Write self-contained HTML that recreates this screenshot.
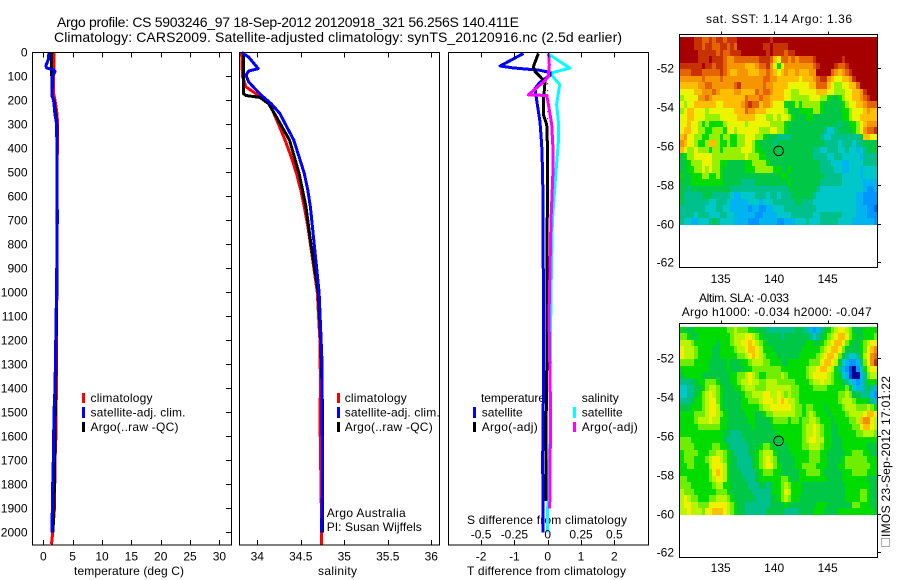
<!DOCTYPE html>
<html>
<head>
<meta charset="utf-8">
<title>Argo profile</title>
<style>
html,body{margin:0;padding:0;background:#fff;}
svg{display:block;}
text{font-family:"Liberation Sans",sans-serif;font-size:12px;fill:#000;}
.t14{font-size:14px;}
</style>
</head>
<body>
<svg id="figure" xmlns="http://www.w3.org/2000/svg" width="900" height="580" viewBox="0 0 900 580">
<rect x="0" y="0" width="900" height="580" fill="#fff"/>
<text class="t14" x="57" y="27" textLength="462" lengthAdjust="spacing">Argo profile: CS 5903246_97 18-Sep-2012 20120918_321 56.256S 140.411E</text>
<text class="t14" x="54" y="42" textLength="568" lengthAdjust="spacing">Climatology: CARS2009. Satellite-adjusted climatology: synTS_20120916.nc (2.5d earlier)</text>

<text x="74" y="575" textLength="110" lengthAdjust="spacing">temperature (deg C)</text>
<text x="318" y="575" textLength="39" lengthAdjust="spacing">salinity</text>
<text x="467" y="575" textLength="159" lengthAdjust="spacing">T difference from climatology</text>
<text x="467" y="524" textLength="160" lengthAdjust="spacing">S difference from climatology</text>

<g>
<rect x="82" y="393" width="3" height="10" fill="#f00"/>
<rect x="82" y="407" width="3" height="11" fill="#00f"/>
<rect x="82" y="422" width="3" height="10" fill="#000"/>
<text x="90.5" y="402" textLength="62" lengthAdjust="spacing">climatology</text>
<text x="90.5" y="416.5" textLength="95" lengthAdjust="spacing">satellite-adj. clim.</text>
<text x="90.5" y="431" textLength="88" lengthAdjust="spacing">Argo(..raw -QC)</text>
</g>
<g>
<rect x="337" y="393" width="3" height="10" fill="#f00"/>
<rect x="337" y="407" width="3" height="11" fill="#00f"/>
<rect x="337" y="422" width="3" height="10" fill="#000"/>
<text x="344.7" y="402" textLength="62" lengthAdjust="spacing">climatology</text>
<text x="344.7" y="416.5" textLength="95" lengthAdjust="spacing">satellite-adj. clim.</text>
<text x="344.7" y="431" textLength="88" lengthAdjust="spacing">Argo(..raw -QC)</text>
</g>
<g>
<text x="326.7" y="517" textLength="79" lengthAdjust="spacing">Argo Australia</text>
<text x="326.7" y="531" textLength="95" lengthAdjust="spacing">PI: Susan Wijffels</text>
</g>
<g>
<text x="481" y="402" textLength="64" lengthAdjust="spacing">temperature</text>
<text x="581.7" y="402" textLength="37" lengthAdjust="spacing">salinity</text>
<rect x="473" y="407" width="3" height="11" fill="#00f"/>
<rect x="473" y="422" width="3" height="10" fill="#000"/>
<rect x="573" y="407" width="3" height="11" fill="#0ff"/>
<rect x="573" y="422" width="3" height="10" fill="#f0f"/>
<text x="481.7" y="416.5" textLength="41" lengthAdjust="spacing">satellite</text>
<text x="481.7" y="431" textLength="56" lengthAdjust="spacing">Argo(-adj)</text>
<text x="581.7" y="416.5" textLength="41" lengthAdjust="spacing">satellite</text>
<text x="581.7" y="431" textLength="56" lengthAdjust="spacing">Argo(-adj)</text>
</g>

<text x="706" y="23" textLength="146" lengthAdjust="spacing">sat. SST: 1.14 Argo: 1.36</text>
<text x="699" y="302" textLength="90" lengthAdjust="spacing">Altim. SLA: -0.033</text>
<text x="681.7" y="316" textLength="190" lengthAdjust="spacing">Argo h1000: -0.034 h2000: -0.047</text>

<rect x="881.5" y="538.5" width="8" height="8" fill="none" stroke="#555" stroke-width="1" stroke-dasharray="1 1"/>
<text transform="translate(890,537) rotate(-90)" x="0" y="0" textLength="161" lengthAdjust="spacing">IMOS 23-Sep-2012 17:01:22</text>
</svg>

<script>
// ---------- profile data ----------
const depthTickValues = [0,100,200,300,400,500,600,700,800,900,1000,1100,1200,1300,1400,1500,1600,1700,1800,1900,2000];
const tempTickValues = [0,5,10,15,20,25,30];
const salTickValues = [34,34.5,35,35.5,36];
const salTickLabels = ['34','34.5','35','35.5','36'];
const diffTickValues = [-2,-1,0,1,2];
const sDiffTickValues = [-0.5,-0.25,0,0.25,0.5];
const sDiffTickLabels = ['-0.5','-0.25','0','0.25','0.5'];
const lonTickValues = [135,140,145];
const latTickValues = [-52,-54,-56,-58,-60,-62];

const climTempDepth = [0,50,100,170,200,250,300,320,500,1000,1500,1510,1600,1700,1900,2000,2050];
const climTemp = [1.82,1.85,1.72,1.75,2.0,2.3,2.45,2.42,2.35,2.3,2.2,2.2,2.15,2.0,1.9,1.6,1.4];
const argoTempDepth = [0,180,200,250,300,600,1000,1300,1500,1700,1850,2000];
const argoTemp = [1.43,1.45,1.8,2.1,2.3,2.35,2.3,2.15,2.05,1.95,1.85,1.65];
const satTempDepth = [0,30,55,65,72,80,100,180,200,260,300,400,500,700,800,1000,1400,1500,1700,1850,2000];
const satTemp = [0.97,0.85,0.46,0.55,1.7,2.0,1.6,1.48,1.75,2.0,2.28,2.3,2.35,2.38,2.33,2.25,2.0,1.82,1.7,1.55,1.5];

const climSalDepth = [0,100,144,179,220,297,366,436,505,574,644,713,783,1000,1200,1400,1500,2000,2050];
const climSal = [33.82,33.83,33.87,34.01,34.15,34.24,34.32,34.39,34.45,34.50,34.54,34.575,34.605,34.69,34.72,34.727,34.72,34.74,34.74];
const argoSalDepth = [0,172,180,188,214,269,366,505,644,783,1000,1200,1500,2000];
const argoSal = [33.84,33.84,33.87,34.03,34.13,34.22,34.37,34.48,34.56,34.61,34.70,34.73,34.75,34.75];
const satSalDepth = [0,20,68,78,96,123,158,180,214,255,297,366,436,505,574,644,783,1000,1300,1500,1800,1950,2000];
const satSal = [33.82,33.9,34.01,33.9,33.87,33.9,33.99,34.05,34.16,34.26,34.32,34.42,34.48,34.54,34.58,34.61,34.65,34.71,34.745,34.745,34.75,34.74,34.74];

const satTDiffDepth = [5,57,65,75,84,96,124,151,200,290,387,512,1000,1400,1500,1700,2000];
const satTDiff = [-0.73,-1.43,-1.04,-0.23,0.07,0.07,-0.23,-0.38,-0.33,-0.23,-0.18,-0.15,-0.13,-0.12,-0.14,-0.15,-0.14];
const argoTDiffDepth = [5,59,80,101,124,205,260,300,387,512,1400,1550,1870];
const argoTDiff = [-0.28,-0.43,-0.38,-0.23,-0.08,-0.13,-0.13,-0.03,-0.01,-0.01,-0.03,-0.05,-0.05];
const satSDiffDepth = [5,66,80,87,135,217,290,372,512,700,1000,1400,1600,1900,2000];
const satSDiff = [0.0,0.167,0.067,0.017,0.09,0.067,0.08,0.08,0.06,0.035,0.025,0.017,0.017,0.0,0.0];
const argoSDiffDepth = [5,52,100,118,177,180,217,300,387,512,700,1100,1500,1900];
const argoSDiff = [0.007,0.012,0.005,-0.02,-0.145,-0.007,0.005,0.03,0.038,0.038,0.025,0.01,0.022,0.015];

const floatLon = 140.411;
const floatLat = -56.256;

// ---------- map data: colour level per cell, north to south ----------
const sstLevels = [
[14,14,14,14,13,13,12,12,13,12,13,13,12,13,13,13,14,14,14,14,14,14,14,14,14,13,14,14,14,14,14,14,14,14,14,14,14,14,14,14,14,14,14,14,14,14,14,14,14,14,14,14,14,14,14],
[14,14,14,14,13,13,12,13,13,12,12,13,13,12,13,12,14,14,14,14,14,14,14,13,13,14,13,13,13,13,14,14,14,14,14,14,14,14,14,14,14,14,14,14,14,14,14,14,14,14,14,14,14,14,14],
[14,14,14,14,14,13,13,13,13,13,12,13,12,12,13,13,13,14,14,14,14,14,14,14,13,14,13,13,13,12,13,13,14,14,14,14,14,14,14,14,14,14,14,14,14,14,14,14,14,14,14,14,14,14,14],
[14,14,14,14,14,13,13,13,14,13,13,13,12,11,11,12,12,12,12,12,12,12,13,13,13,12,10,9,12,12,11,12,11,12,12,12,12,13,14,14,14,14,14,14,14,13,14,14,14,14,14,14,14,14,14],
[13,13,13,13,13,13,14,13,13,12,13,13,12,11,11,11,11,11,10,10,10,11,12,12,13,11,9,7,9,11,11,11,11,11,11,11,11,12,13,14,14,14,14,13,12,12,13,14,14,14,14,14,14,14,14],
[12,12,12,13,13,13,12,12,12,12,12,13,12,11,10,10,11,11,11,10,10,10,11,11,12,11,10,9,10,11,10,10,11,10,10,10,11,11,14,14,14,14,12,11,10,11,12,13,14,14,14,14,14,14,14],
[11,11,11,11,11,11,12,11,11,11,11,12,11,11,11,11,11,11,11,11,11,11,11,12,12,11,11,10,10,10,10,10,10,9,10,10,10,11,12,13,13,11,10,9,9,10,10,11,13,14,14,14,14,14,14],
[10,10,10,10,10,11,11,12,12,11,11,11,11,11,11,12,13,11,11,11,11,11,11,12,11,11,10,10,10,10,9,9,9,9,9,9,10,10,12,12,12,10,9,8,8,9,9,10,10,12,14,14,14,14,14],
[9,9,9,9,10,10,11,11,11,12,11,10,10,10,10,11,11,10,10,10,10,12,11,12,12,11,10,10,10,9,9,8,8,9,9,9,9,9,10,10,10,9,9,8,8,8,9,9,10,10,11,13,14,14,14],
[8,9,9,9,9,11,11,12,11,10,10,10,10,10,10,10,10,10,12,11,11,11,12,11,11,10,10,10,10,9,9,8,8,8,8,8,9,9,9,8,8,7,6,6,7,8,9,9,10,10,11,12,13,14,14],
[9,8,9,9,10,10,10,10,10,10,9,9,10,10,10,10,10,11,12,13,12,12,10,11,11,10,9,9,9,7,6,7,8,7,8,8,8,8,8,7,6,6,6,6,6,7,8,9,9,10,10,11,12,12,12],
[8,9,10,10,9,9,9,8,9,9,9,9,9,9,9,10,10,10,12,11,11,10,10,10,9,9,9,9,9,8,7,6,6,7,7,7,7,8,8,7,6,6,6,6,6,7,7,8,9,9,9,10,11,10,10],
[9,9,10,10,9,9,9,8,8,8,8,9,9,9,9,9,10,10,10,10,10,9,9,9,8,8,9,8,9,9,8,7,6,6,6,7,7,6,6,6,6,6,6,6,6,7,7,8,9,9,10,10,10,10,10],
[9,9,10,9,9,8,7,8,7,7,7,7,8,9,9,9,9,9,8,9,9,9,9,9,9,8,8,8,8,7,6,6,6,6,6,6,6,6,6,6,6,6,6,6,5,6,6,7,7,8,9,10,11,11,11],
[9,10,10,9,9,8,8,7,7,8,8,8,7,9,9,8,9,9,9,9,9,9,8,8,8,9,9,8,8,7,6,6,6,6,6,6,6,6,6,6,5,4,4,5,6,6,6,6,7,8,9,11,12,12,13],
[10,11,9,9,8,8,7,7,8,8,8,7,8,8,7,7,8,8,9,9,9,8,8,7,6,6,6,5,5,5,5,6,6,6,6,6,6,6,6,5,4,4,5,5,5,5,5,5,5,5,6,10,10,9,9],
[11,10,9,9,8,7,7,8,10,10,8,7,7,8,7,7,8,8,9,9,8,7,6,6,6,6,5,6,6,6,6,6,6,6,6,6,6,6,6,6,5,5,5,5,4,5,5,5,4,5,5,6,6,6,6],
[10,9,8,8,9,8,8,8,7,8,8,7,8,8,8,8,8,9,9,9,8,7,7,6,6,6,6,6,6,6,6,6,6,6,6,6,6,5,5,4,4,5,5,5,4,4,5,4,4,3,4,5,6,6,6],
[6,7,8,8,9,9,9,9,9,8,8,8,8,8,8,8,8,8,9,8,8,8,7,7,6,6,6,6,6,6,6,6,6,6,6,6,6,5,5,5,5,4,4,5,5,4,4,4,4,4,3,5,5,5,5],
[6,6,7,8,8,8,9,9,9,8,8,7,7,6,6,6,6,6,7,7,8,8,8,8,7,6,6,6,6,6,6,6,6,6,6,6,6,6,6,5,5,5,4,4,4,3,3,4,4,4,4,5,5,5,5],
[6,6,7,7,8,8,9,8,9,8,8,7,6,6,6,6,6,6,7,7,7,8,8,8,8,8,7,7,6,6,7,6,6,6,6,6,6,6,6,5,5,5,5,4,4,3,3,4,4,4,3,4,4,4,4],
[7,6,6,7,7,7,8,8,7,7,8,7,6,6,6,6,6,6,6,6,6,6,6,6,6,6,6,6,7,7,6,6,6,6,6,6,6,6,6,6,5,5,5,5,5,4,4,4,4,4,3,4,4,4,4],
[6,6,6,7,7,7,7,7,7,7,7,7,6,6,6,6,6,5,5,5,5,6,6,6,6,6,6,6,6,6,7,6,6,6,6,6,6,6,6,5,5,5,5,5,5,4,4,4,4,4,4,3,3,3,3],
[6,6,5,6,6,6,6,6,6,6,6,6,6,6,5,5,5,5,5,5,5,5,5,5,5,5,5,5,5,5,6,6,6,6,6,6,6,6,5,4,4,4,4,4,4,4,4,4,4,4,4,3,2,2,3],
[6,5,5,5,5,5,6,6,6,5,5,5,5,5,4,3,3,4,4,4,4,5,5,5,4,5,5,4,5,5,5,6,6,6,6,6,6,5,4,4,4,4,4,4,4,4,4,4,4,3,3,2,2,2,2],
[6,5,5,5,5,5,5,5,4,4,5,5,5,4,3,3,3,3,3,4,4,4,3,4,4,4,5,5,5,5,5,5,6,6,5,5,5,4,4,4,4,4,4,4,4,4,4,4,4,3,3,2,2,2,2],
[5,5,5,5,5,5,5,4,4,4,5,5,4,4,3,3,3,3,3,2,3,3,2,2,3,3,4,4,4,5,5,5,5,5,5,5,5,5,4,4,4,4,4,4,4,4,4,4,4,3,3,3,2,2,1],
[5,5,5,5,4,5,5,5,4,4,4,5,5,4,4,3,3,3,3,3,3,2,2,3,3,3,3,4,4,4,4,5,5,5,5,5,5,4,4,5,5,5,5,5,5,4,4,4,4,3,3,3,2,2,2],
[5,4,4,3,3,4,4,4,5,6,5,4,4,4,4,3,3,3,3,2,2,2,3,3,3,3,3,2,2,3,3,3,4,4,4,5,4,4,4,5,5,5,5,5,4,4,4,4,3,3,3,3,3,3,2]
];
const slaLevels = [
[7,6,6,6,7,7,7,7,7,7,7,7,7,8,8,9,8,8,8,7,7,6,6,6,5,5,5,5,5,5,5,5,6,6,5,5,3,2,3,5,6,7,8,9,10,10,9,8,6,6,6,7,7,7,7],
[8,8,7,6,6,7,7,7,7,7,7,7,7,7,8,9,9,9,10,10,9,8,7,6,6,6,6,6,5,6,6,6,6,6,6,6,5,4,5,6,7,8,9,10,11,11,10,8,7,6,6,7,7,7,8],
[9,9,9,8,7,7,7,7,7,7,6,7,7,7,8,9,9,10,10,11,10,9,8,7,6,6,6,6,6,6,6,6,6,6,6,7,7,6,6,7,8,9,10,11,11,10,8,7,6,6,7,8,9,10,10],
[10,9,9,9,8,7,7,7,7,6,6,7,7,7,7,8,9,9,10,11,11,10,9,7,7,7,6,6,6,6,6,6,6,6,7,7,7,7,7,8,9,10,11,11,10,8,6,6,6,6,7,8,10,11,12],
[10,9,9,9,8,7,7,7,7,6,6,7,7,7,7,7,8,8,9,10,11,10,9,8,7,7,7,6,6,6,6,6,6,7,7,7,7,7,8,9,10,11,11,10,8,6,5,4,4,5,7,9,10,12,13],
[8,8,8,8,7,7,7,7,6,6,6,6,6,7,6,6,6,7,7,8,9,9,9,8,8,7,7,7,6,6,7,7,7,7,7,7,8,8,8,10,11,11,10,9,6,4,3,2,2,3,5,8,10,12,14],
[7,7,7,7,7,7,7,7,6,6,6,6,6,7,6,6,6,6,7,7,8,8,8,8,8,8,8,8,7,7,7,7,7,7,7,8,9,9,10,11,11,10,9,7,5,3,2,1,0,2,4,7,9,10,10],
[6,7,7,7,7,7,6,6,6,6,6,6,6,6,7,7,8,8,9,10,9,8,7,7,8,8,8,8,9,8,7,7,7,7,7,8,9,10,10,10,10,9,8,7,6,4,3,1,0,0,3,5,8,9,9],
[5,5,5,6,6,7,7,8,8,8,7,6,6,6,7,7,8,9,9,10,9,9,8,8,9,9,9,8,8,8,8,8,7,7,7,7,8,9,9,10,9,9,8,7,7,6,5,4,3,2,3,5,7,7,7],
[4,4,5,5,6,6,7,8,9,9,8,7,6,6,6,7,7,8,9,9,9,8,8,8,9,9,9,9,9,9,9,8,8,7,7,7,7,8,8,8,8,7,7,7,7,7,8,6,4,3,3,5,6,5,3],
[4,4,5,5,6,7,8,9,10,9,8,7,6,6,6,6,6,7,8,8,9,9,9,10,10,9,9,10,9,8,9,8,8,7,7,7,7,7,7,7,7,7,7,7,8,8,9,8,6,6,5,5,5,3,2],
[5,5,5,6,7,7,8,9,10,10,8,7,6,6,6,6,6,7,7,8,8,8,9,10,10,10,9,10,11,10,9,9,8,7,7,7,7,7,7,7,7,7,7,7,8,9,9,9,8,7,7,7,6,5,3],
[6,6,6,7,7,7,8,9,10,10,9,7,6,6,6,6,6,7,7,7,7,7,8,9,9,10,10,10,10,10,10,9,8,8,7,8,8,7,7,7,6,7,7,7,7,8,9,9,9,8,8,8,9,8,7],
[7,7,7,7,8,8,8,9,10,10,9,8,7,6,6,6,6,6,7,7,7,6,6,7,8,8,9,9,9,9,9,9,8,8,7,8,9,8,7,7,7,6,7,7,7,7,8,9,9,9,9,10,11,11,10],
[7,7,7,7,8,9,9,9,10,9,9,7,7,6,6,6,6,6,6,7,7,6,6,6,6,7,8,8,8,8,7,8,8,7,8,8,9,9,8,7,7,7,6,7,7,7,7,8,8,9,11,12,12,10,9],
[7,7,7,7,7,8,8,8,8,8,8,7,7,6,6,6,6,6,6,6,7,6,6,6,6,6,7,7,7,7,7,7,7,7,8,9,9,10,9,8,7,7,6,6,7,7,7,7,8,8,10,11,11,10,9],
[7,7,7,7,7,7,7,7,7,7,7,7,6,6,5,5,5,6,6,6,6,6,6,6,6,6,6,7,7,7,7,7,7,7,8,9,9,10,9,8,7,7,6,6,7,7,7,7,7,8,8,9,9,9,8],
[8,8,8,7,7,7,7,7,7,7,7,7,6,5,5,5,5,5,6,6,6,6,6,6,6,6,6,6,7,7,7,7,7,7,8,9,10,10,9,9,7,7,6,6,6,7,7,7,7,7,7,7,7,7,7],
[8,8,8,8,7,7,7,7,7,8,8,7,7,6,5,5,5,5,5,6,6,6,7,8,8,7,6,6,6,6,7,7,7,7,8,8,9,9,9,8,7,7,6,6,6,7,7,7,7,7,7,7,6,6,6],
[7,8,8,8,8,7,7,7,8,8,9,9,8,7,6,5,5,5,5,6,6,7,8,9,9,9,7,6,6,6,6,7,7,7,7,7,8,8,8,7,7,6,6,6,6,6,7,7,8,8,8,7,7,6,6],
[7,8,8,8,7,7,7,8,9,10,10,9,8,7,6,6,5,5,5,5,6,7,8,9,10,9,8,6,6,6,6,6,7,7,7,7,8,8,8,7,7,6,6,6,6,7,8,8,8,8,8,8,7,7,7],
[7,7,8,8,7,7,7,7,9,10,10,10,9,7,6,6,5,5,5,5,6,7,8,9,10,10,8,7,6,6,6,6,7,7,8,8,8,8,7,7,7,6,6,6,7,7,8,8,8,8,8,8,8,7,7],
[7,7,7,7,7,7,7,7,8,10,11,10,9,7,6,6,6,5,5,5,5,6,7,8,8,8,7,7,6,6,6,6,6,7,7,8,8,8,8,7,6,6,6,6,6,7,7,7,8,8,8,8,7,7,7],
[8,8,7,7,7,7,7,7,8,9,10,10,9,7,6,6,6,6,5,5,5,6,7,7,7,7,7,7,8,8,7,6,6,7,7,7,7,7,7,7,7,6,6,6,6,7,7,7,7,7,7,7,6,6,6],
[8,8,8,7,7,7,7,7,7,8,9,9,7,7,6,6,6,6,6,5,5,5,6,6,5,6,7,7,8,9,8,7,7,7,6,6,6,6,6,6,6,6,6,6,6,6,7,7,7,7,7,7,7,6,6],
[9,8,8,8,7,7,7,7,7,7,8,8,8,7,6,6,6,6,6,6,5,5,5,5,5,6,7,7,8,10,9,7,7,7,6,6,6,6,6,6,6,6,6,6,6,6,7,7,7,7,8,8,7,6,6],
[9,10,9,8,8,7,7,7,8,8,9,9,9,8,7,6,6,6,6,6,6,5,5,5,5,6,6,7,8,9,8,7,7,6,6,6,6,6,6,6,6,6,6,6,6,6,7,7,7,7,8,8,7,6,6],
[9,10,10,9,9,8,8,8,10,10,10,10,10,9,8,7,6,6,5,5,5,5,5,5,5,6,6,6,6,7,6,6,6,6,6,6,6,6,7,7,7,6,6,6,6,6,6,6,8,8,7,7,7,6,6],
[9,9,10,9,9,9,8,10,10,11,11,11,10,9,8,7,6,6,5,5,5,5,5,5,6,6,6,6,6,5,5,5,5,6,6,6,6,7,7,7,6,6,6,6,7,7,7,7,7,7,7,7,7,7,6]
];

// ---------- scales ----------
const svg = document.getElementById('figure');
const NS = 'http://www.w3.org/2000/svg';
const PANEL_TOP = 52.5, PANEL_BOTTOM = 545;
const depthY = d => 52.3 + d * 0.24;
const tempX = t => 43.3 + t * 5.87;
const salX = s => 257.3 + (s - 34) * 87;
const tDiffX = t => 547.7 + t * 33.3;
const sDiffX = s => 547.7 + s * 133.3;
const mapX = lon => 720.7 + (lon - 135) * 10.7;
const sstY = lat => 68.3 + (-52 - lat) * 19.4;
const slaY = lat => 358.3 + (-52 - lat) * 19.4;

const LON0 = 131.2, DLON = 0.3356, LAT_SST0 = -50.37, LAT_SLA0 = -50.37, DLAT = 0.334, NCOL = 55;
const sstColors = ['#000096','#0064f0','#0096ff','#00b4f0','#00c8c8','#00c08c','#00c846','#00dc00','#96f000','#ecf500','#ffbe00','#f59600','#e66400','#c83200','#a60000'];
const slaColors = ['#000096','#0050e0','#0096ff','#00b4f0','#00c8c8','#00c08c','#00c846','#00dc00','#70ee00','#b8f500','#f0f000','#ffc000','#f09000','#e87000','#b83c00'];

function mk(tag, attrs, parent) {
  const el = document.createElementNS(NS, tag);
  for (const k in attrs) el.setAttribute(k, attrs[k]);
  (parent || svg).appendChild(el);
  return el;
}
function levelColor(palette, v) {
  const i = Math.max(0, Math.min(palette.length - 1, Math.round(v)));
  return palette[i];
}

// ---------- heatmaps ----------
function drawMap(levels, palette, yScale, lat0, prefix) {
  const g = mk('g', {'shape-rendering': 'crispEdges'});
  
  
  levels.forEach((row, r) => {
    const y0 = Math.round(yScale(lat0 - r * DLAT));
    const y1 = Math.round(yScale(lat0 - (r + 1) * DLAT));
    for (let c = 0; c < NCOL; c++) {
      const x0 = Math.round(mapX(LON0 + c * DLON));
      const x1 = Math.round(mapX(LON0 + (c + 1) * DLON));
      const v = row[Math.min(c, row.length - 1)];
      const cell = mk('rect', {x: x0, y: y0, width: x1 - x0, height: y1 - y0, fill: levelColor(palette, v)}, g);
      
      
    }
  });
}
drawMap(sstLevels, sstColors, sstY, LAT_SST0, 'sst');
drawMap(slaLevels, slaColors, slaY, LAT_SLA0, 'sla');

// ---------- profile lines ----------
function drawSeries(depths, values, xScale, color, width, name) {
  const pts = depths.map((d, i) => xScale(values[i]).toFixed(1) + ',' + depthY(d).toFixed(1)).join(' ');
  const line = mk('polyline', {points: pts, fill: 'none', stroke: color, 'stroke-width': width, 'stroke-linejoin': 'round', 'shape-rendering': 'crispEdges'});
  
  
}
drawSeries(climTempDepth, climTemp, tempX, '#f00', 3, 'temperature-climatology-line');
drawSeries(argoTempDepth, argoTemp, tempX, '#000', 3, 'temperature-argo-line');
drawSeries(satTempDepth, satTemp, tempX, '#00f', 3, 'temperature-satellite-line');

drawSeries(climSalDepth, climSal, salX, '#f00', 3, 'salinity-climatology-line');
drawSeries(argoSalDepth, argoSal, salX, '#000', 3, 'salinity-argo-line');
drawSeries(satSalDepth, satSal, salX, '#00f', 3, 'salinity-satellite-line');

const zeroLine = mk('line', {x1: tDiffX(0), x2: tDiffX(0), y1: depthY(100), y2: depthY(320), stroke: '#000', 'stroke-width': 1, 'stroke-dasharray': '1 6'});



drawSeries(satSDiffDepth, satSDiff, sDiffX, '#0ff', 3, 's-difference-satellite-line');
drawSeries(satTDiffDepth, satTDiff, tDiffX, '#00f', 3, 't-difference-satellite-line');
drawSeries(argoTDiffDepth, argoTDiff, tDiffX, '#000', 3, 't-difference-argo-line');
drawSeries(argoSDiffDepth, argoSDiff, sDiffX, '#f0f', 3, 's-difference-argo-line');

// ---------- axes frames and ticks ----------
function frame(x, y, w, h, name) {
  const r = mk('rect', {x: x, y: y, width: w, height: h, fill: 'none', stroke: '#000', 'stroke-width': 1, 'shape-rendering': 'crispEdges'});
  
  
}
frame(32.5, 52.5, 199, 492.5, 'temperature-panel-frame');
frame(239.5, 52.5, 200, 492.5, 'salinity-panel-frame');
frame(448.5, 52.5, 200, 492.5, 'difference-panel-frame');
frame(679.5, 34.5, 198, 233, 'sst-map-frame');
frame(679.5, 323.5, 198, 234, 'sla-map-frame');

function tick(x1, y1, x2, y2, name) {
  const t = mk('line', {x1: x1, y1: y1, x2: x2, y2: y2, stroke: '#000', 'stroke-width': 1, 'shape-rendering': 'crispEdges'});
  
  
}
function label(x, y, str, anchor, name) {
  const t = mk('text', {x: x, y: y, 'text-anchor': anchor});
  t.textContent = str;
  
  
}

depthTickValues.forEach(d => {
  const y = Math.round(depthY(d)) + 0.5;
  tick(226, y, 231.5, y, 'depth-tick');
  label(27.5, y + 4, String(d), 'end', 'depth-tick-label');
});
function xTicks(values, labels, scale, prefix) {
  values.forEach((v, i) => {
    const x = Math.round(scale(v)) + 0.5;
    tick(x, PANEL_TOP, x, PANEL_TOP + 5, prefix + '-top-tick');
    tick(x, PANEL_BOTTOM - 5, x, PANEL_BOTTOM, prefix + '-bottom-tick');
    label(scale(v), 560.5, labels[i], 'middle', prefix + '-tick-label');
  });
}
xTicks(tempTickValues, tempTickValues.map(String), tempX, 'temperature');
xTicks(salTickValues, salTickLabels, salX, 'salinity');
xTicks(diffTickValues, diffTickValues.map(String), tDiffX, 't-difference');
sDiffTickValues.forEach((v, i) => {
  label(sDiffX(v), 538.5, sDiffTickLabels[i], 'middle', 's-difference-tick-label');
});

function mapAxes(yScale, topY, bottomY, labelY, prefix) {
  lonTickValues.forEach(lon => {
    const x = Math.round(mapX(lon)) + 0.5;
    tick(x, topY - 3, x, topY, prefix + '-lon-tick');
    label(mapX(lon), labelY, String(lon), 'middle', prefix + '-lon-label');
  });
  latTickValues.forEach(lat => {
    const y = Math.round(yScale(lat)) + 0.5;
    tick(877.5, y, 881, y, prefix + '-lat-tick');
    label(674, y + 4, String(lat), 'end', prefix + '-lat-label');
  });
}
mapAxes(sstY, 34.5, 267.5, 283, 'sst');
mapAxes(slaY, 323.5, 557.5, 572, 'sla');

// ---------- float position markers ----------
const sstMarker = mk('circle', {cx: mapX(floatLon), cy: sstY(floatLat), r: 4.8, fill: 'none', stroke: '#000', 'stroke-width': 1});


const slaMarker = mk('circle', {cx: mapX(floatLon), cy: slaY(floatLat), r: 4.8, fill: 'none', stroke: '#000', 'stroke-width': 1});


</script>
</body>
</html>
